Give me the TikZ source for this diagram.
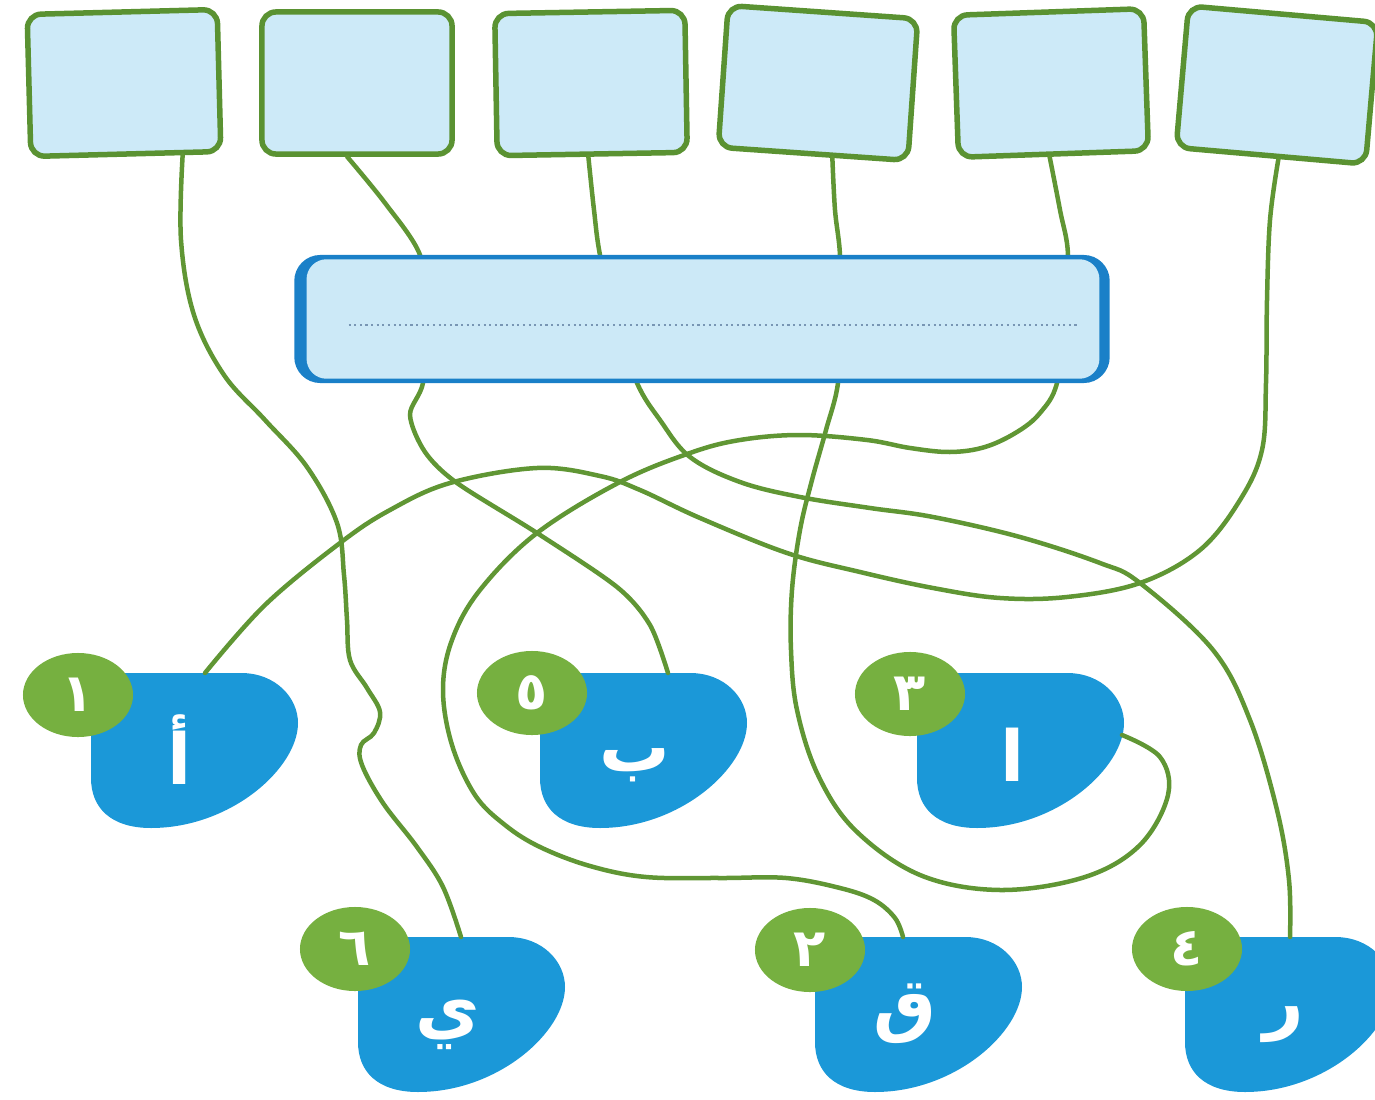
\documentclass[tikz,border=0pt]{standalone}
\usepackage{fontspec}
\usepackage{tikz}
\usetikzlibrary{shapes.geometric, calc}
\newfontfamily\arabicfont[Script=Arabic]{DejaVu Sans}
\TeXXeTstate=1

\definecolor{boxfill}{RGB}{205,234,248}
\definecolor{boxgreen}{RGB}{90,146,50}
\definecolor{wiregreen}{RGB}{96,150,52}
\definecolor{blobblue}{RGB}{27,152,216}
\definecolor{diskgreen}{RGB}{118,176,64}
\definecolor{barblue}{RGB}{26,128,200}
\definecolor{barfill}{RGB}{204,233,247}
\definecolor{dotgrey}{RGB}{120,150,180}

\tikzset{
  answerbox/.style={draw=boxgreen, fill=boxfill, line width=0.055cm, rounded corners=0.14cm,
    minimum width=1.9cm, minimum height=1.42cm, inner sep=0pt},
  wire/.style={wiregreen, line width=0.045cm, line cap=round},
  numdisk/.style={ellipse, fill=diskgreen, minimum width=1.1cm, minimum height=0.84cm,
    inner sep=0pt, text=white, font=\arabicfont\bfseries\fontsize{15}{16}\selectfont},
  letterlbl/.style={text=white, inner sep=0pt, font=\arabicfont\bfseries\fontsize{20}{22}\selectfont},
  barbox/.style={fill=barblue, rounded corners=0.26cm, minimum width=8.15cm,
    minimum height=1.28cm, inner sep=0pt},
  dotline/.style={dotgrey, densely dotted, line width=0.6pt}
}

% letter shape: name, x, y (top left), disk dx, disk dy, letter dx, letter dy, digit, letter
\newcommand{\letterblob}[9]{%
  \begin{scope}[shift={(#2,#3)}]
    \coordinate (#1) at (0,0);
    \fill[blobblue] (0,0) -- (150,0) .. controls (185,0) and (207,25) .. (207,50)
      .. controls (207,95) and (140,155) .. (60,155)
      .. controls (20,155) and (0,135) .. (0,105) -- cycle;
    \node[letterlbl] (#1txt) at (#6,#7) {\beginR #9\endR};
    \node[numdisk] (#1num) at (#4,#5) {\beginR #8\endR};
  \end{scope}}

\begin{document}
\begin{tikzpicture}[x=0.01cm, y=-0.01cm]
\useasboundingbox (0,0) rectangle (1375,1100);

% Answer boxes on top
\foreach \name/\x/\y/\ang in {t1/124/83/1.5, t2/357/83/0, t3/591/83/1, t4/818/83/-4, t5/1051/83/2, t6/1277/85/-5}
  \node[answerbox, rotate=\ang] (\name) at (\x,\y) {};

% Letters with their numbers
\letterblob{b1}{91}{673}{-13}{22}{89}{77}{١}{أ}
\letterblob{b5}{540}{673}{-8}{20}{95}{92}{٥}{ب}
\letterblob{b3}{917}{673}{-7}{21}{96}{82}{٣}{ا}
\letterblob{b6}{358}{937}{-3}{12}{90}{88}{٦}{ي}
\letterblob{b2}{815}{937}{-5}{13}{90}{77}{٢}{ق}
\letterblob{b4}{1185}{937}{2}{12}{99}{88}{٤}{ر}

% Wire ends
\coordinate (t1out) at ($(t1.south west)!.79!(t1.south east)$);
\coordinate (t2out) at ($(t2.south west)!.45!(t2.south east)$);
\coordinate (t3out) at ($(t3.south west)!.48!(t3.south east)$);
\coordinate (t4out) at ($(t4.south west)!.60!(t4.south east)$);
\coordinate (t5out) at ($(t5.south west)!.48!(t5.south east)$);
\coordinate (t6out) at ($(t6.south west)!.54!(t6.south east)$);
\coordinate (b1in) at ($(b1)+(114,0)$);
\coordinate (b2in) at ($(b2)+(88,0)$);
\coordinate (b3in) at ($(b3)+(205,62)$);
\coordinate (b4in) at ($(b4)+(105,0)$);
\coordinate (b5in) at ($(b5)+(128,0)$);
\coordinate (b6in) at ($(b6)+(103,0)$);

% Wires
\draw[wire] plot[smooth, tension=0.6] coordinates {(t1out) (181,240) (194,315) (224,375)
  (265,420) (307,467) (337,523) (344,575) (347,620) (350,660) (367,688) (380,712)
  (374,733) (361,745) (362,765) (383,803) (417,847) (443,887) (b6in)};
\draw[wire] plot[smooth, tension=0.5] coordinates {(t2out) (385,203) (420,255) (428,320)
  (423,383) (410,415) (425,452) (457,483) (537,533) (617,587) (650,625) (b5in)};
\draw[wire] plot[smooth, tension=0.6] coordinates {(t3out) (594,210) (600,255) (615,320)
  (637,383) (660,420) (690,457) (740,482) (800,497) (870,508) (933,517) (1020,537)
  (1100,563) (1140,583) (1213,650) (1250,720) (1277,810) (1289,880) (b4in)};
\draw[wire] plot[smooth, tension=0.6] coordinates {(t4out) (835,210) (840,255) (841,320)
  (838,383) (826,430) (812,480) (800,530) (792,590) (791,650) (797,710) (818,775)
  (855,830) (920,875) (1000,890) (1085,877) (1140,845) (1168,795) (1160,757) (b3in)};
\draw[wire] plot[smooth, tension=0.6] coordinates {(t5out) (1060,210) (1068,255) (1064,320)
  (1057,383) (1040,413) (1017,432) (985,447) (950,452) (910,448) (867,440) (800,435)
  (740,440) (690,453) (620,482) (537,533) (480,590) (452,640) (443,690) (452,745)
  (475,795) (505,825) (540,847) (590,866) (646,877) (720,878) (786,878) (840,888)
  (874,900) (895,918) (b2in)};
\draw[wire] plot[smooth, tension=0.6] coordinates {(t6out) (1270,220) (1267,300) (1266,383)
  (1262,450) (1240,500) (1200,550) (1140,583) (1067,597) (1000,598) (933,588) (860,572)
  (787,553) (700,518) (640,490) (600,476) (537,468) (450,483) (390,510) (340,543)
  (265,605) (b1in)};

% Word bar in the middle
\node[barbox] (bar) at (702,319) {};
\fill[barfill, rounded corners=0.2cm] ($(bar.south west)+(13,-5)$) rectangle ($(bar.north east)+(-11,5)$);
\draw[dotline] ($(bar.west)+(55,6)$) -- ($(bar.east)+(-32,6)$);
\end{tikzpicture}
\end{document}
